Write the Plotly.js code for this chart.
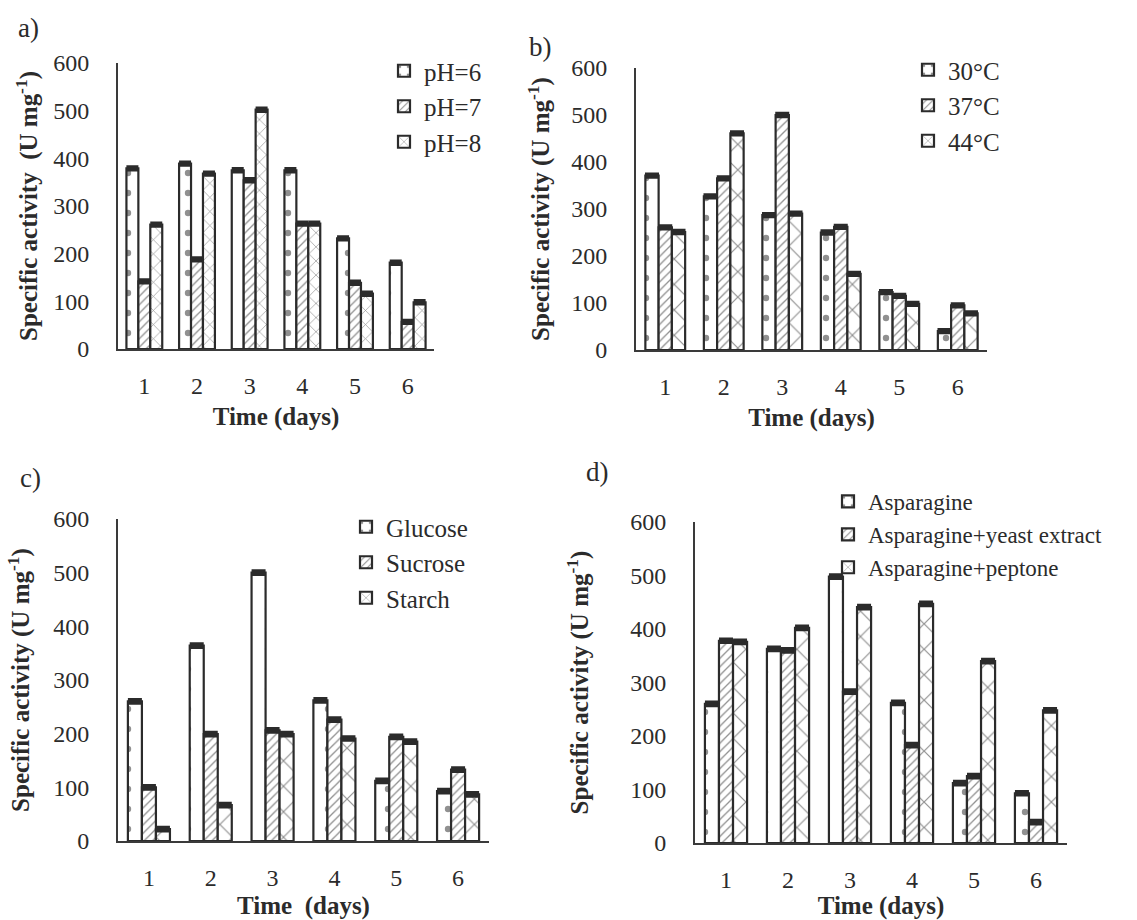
<!DOCTYPE html>
<html>
<head>
<meta charset="utf-8">
<script src="https://cdn.plot.ly/plotly-3.0.1.min.js"></script>
<style>html,body{margin:0;padding:0;background:#fff;}#chart{width:1137px;height:920px;}</style>
</head>
<body>
<div id="chart"></div>
<script>
// ---- data ----
const days = ['1', '2', '3', '4', '5', '6'];

// a) pH
const pHNames = ['pH=6', 'pH=7', 'pH=8'];
const pH6 = [379, 389, 375, 375, 232, 181];
const pH7 = [142, 188, 354, 263, 139, 57];
const pH8 = [261, 368, 502, 263, 116, 98];

// b) temperature
const tempNames = ['30°C', '37°C', '44°C'];
const t30 = [371, 327, 287, 250, 123, 40];
const t37 = [261, 365, 500, 262, 115, 95];
const t44 = [251, 461, 290, 162, 98, 78];

// c) carbon source
const carbonNames = ['Glucose', 'Sucrose', 'Starch'];
const glucose = [260, 364, 500, 262, 112, 93];
const sucrose = [100, 199, 206, 226, 194, 133];
const starch = [22, 67, 199, 191, 185, 87];

// d) nitrogen source
const nitroNames = ['Asparagine', 'Asparagine+yeast extract', 'Asparagine+peptone'];
const asp = [260, 363, 498, 262, 112, 93];
const aspYeast = [378, 360, 283, 183, 125, 39];
const aspPeptone = [376, 402, 441, 447, 340, 248];

const yTicks = [0, 100, 200, 300, 400, 500, 600];

// ---- styling ----
const INK = '#2b2b2b';
const FONT = 'Liberation Serif';
const patterns = [
  {shape: '.', size: 20, solidity: 0.08},
  {shape: '/', size: 6, solidity: 0.22},
  {shape: 'x', size: 14, solidity: 0.13}
];

function bars(name, y, xa, ya, legend, idx, capw, psize) {
  const p = Object.assign({}, patterns[idx]);
  if (psize) p.size = psize;
  return {
    type: 'bar', name: name, x: days, y: y, xaxis: xa, yaxis: ya,
    legend: legend, legendgroup: legend + idx,
    marker: {
      color: '#ffffff',
      line: {color: INK, width: 2.2},
      pattern: Object.assign({fgcolor: '#222222', bgcolor: '#ffffff', fillmode: 'overlay'}, p)
    },
    error_y: {type: 'constant', value: 3, thickness: 3.5, width: capw, color: INK},
    hoverinfo: 'x+y+name'
  };
}

const data = [
  bars(pHNames[0], pH6, 'x', 'y', 'legend', 0, 6),
  bars(pHNames[1], pH7, 'x', 'y', 'legend', 1, 6),
  bars(pHNames[2], pH8, 'x', 'y', 'legend', 2, 6, 10),
  bars(tempNames[0], t30, 'x2', 'y2', 'legend2', 0, 7),
  bars(tempNames[1], t37, 'x2', 'y2', 'legend2', 1, 7),
  bars(tempNames[2], t44, 'x2', 'y2', 'legend2', 2, 7, 18),
  bars(carbonNames[0], glucose, 'x3', 'y3', 'legend3', 0, 7),
  bars(carbonNames[1], sucrose, 'x3', 'y3', 'legend3', 1, 7),
  bars(carbonNames[2], starch, 'x3', 'y3', 'legend3', 2, 7, 18),
  bars(nitroNames[0], asp, 'x4', 'y4', 'legend4', 0, 7),
  bars(nitroNames[1], aspYeast, 'x4', 'y4', 'legend4', 1, 7),
  bars(nitroNames[2], aspPeptone, 'x4', 'y4', 'legend4', 2, 7, 18)
];

const W = 1137, H = 920;
function dx(a, b) { return [a / W, b / W]; }
function dy(top, bottom) { return [1 - bottom / H, 1 - top / H]; }

function xAxis(dom, anchor, title) {
  return {
    domain: dom, anchor: anchor, type: 'category', range: [-0.5, 5.5],
    showline: true, linecolor: '#3a3a3a', linewidth: 2, ticks: '',
    showgrid: false, zeroline: false, fixedrange: true,
    tickfont: {family: FONT, size: 24, color: INK}, ticklabelstandoff: 14,
    title: {text: title, font: {family: FONT, size: 25, weight: 'bold', color: INK}, standoff: 10}
  };
}
function yAxis(dom, anchor, title, standoff) {
  return {
    domain: dom, anchor: anchor, range: [0, 600], tickvals: yTicks,
    showline: true, linecolor: '#3a3a3a', linewidth: 2, ticks: '',
    showgrid: false, zeroline: false, fixedrange: true,
    tickfont: {family: FONT, size: 24, color: INK}, ticklabelstandoff: 22,
    title: {text: title, font: {family: FONT, size: 25, weight: 'bold', color: INK}, standoff: standoff}
  };
}
function legendAt(left, top, gap, size) {
  return {
    x: left / W, y: 1 - top / H, xanchor: 'left', yanchor: 'top',
    xref: 'paper', yref: 'paper', bgcolor: 'rgba(0,0,0,0)', borderwidth: 0,
    font: {size: size, color: INK, family: FONT}, tracegroupgap: gap, traceorder: 'normal'
  };
}
function label(text, x, y) {
  return {text: text, x: x / W, y: 1 - y / H, xref: 'paper', yref: 'paper',
    showarrow: false, xanchor: 'center', yanchor: 'middle',
    font: {family: FONT, size: 27, color: INK}};
}

const yTitle = 'Specific activity (U mg<sup>-1</sup>)';
const layout = {
  width: W, height: H, margin: {l: 0, r: 0, t: 0, b: 0},
  paper_bgcolor: '#ffffff', plot_bgcolor: '#ffffff',
  font: {family: FONT, color: INK},
  barmode: 'group', bargap: 0.32, bargroupgap: 0,
  showlegend: true,
  xaxis: xAxis(dx(118, 434), 'y', 'Time (days)'),
  yaxis: yAxis(dy(63, 349), 'x', 'Specific activity\u00a0 (U mg<sup>-1</sup>)', 8),
  xaxis2: xAxis(dx(636, 987), 'y2', 'Time (days)'),
  yaxis2: yAxis(dy(68, 350), 'x2', yTitle, 14),
  xaxis3: xAxis(dx(118, 489), 'y3', 'Time\u00a0 (days)'),
  yaxis3: yAxis(dy(519, 841), 'x3', yTitle, 16),
  xaxis4: xAxis(dx(695, 1067), 'y4', 'Time (days)'),
  yaxis4: yAxis(dy(522, 843), 'x4', yTitle, 34),
  legend: legendAt(384, 48, 14, 25),
  legend2: legendAt(908, 47, 2, 25),
  legend3: legendAt(346, 504, 4, 25),
  legend4: legendAt(828, 480, 0, 23),
  annotations: [
    label('a)', 28, 28),
    label('b)', 540, 47),
    label('c)', 30, 478),
    label('d)', 597, 472)
  ]
};

Plotly.newPlot('chart', data, layout, {staticPlot: true, displayModeBar: false});
</script>
</body>
</html>
